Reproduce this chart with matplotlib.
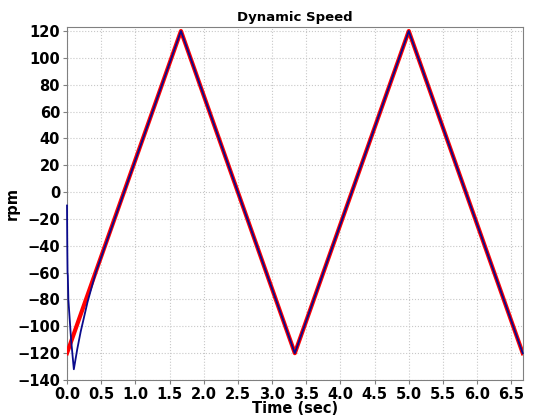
import matplotlib
matplotlib.use("Agg")
import matplotlib.pyplot as plt

# commanded speed (triangle wave corners)
cmd_time = [0.0, 1.667, 3.333, 5.0, 6.667]
cmd_rpm = [-120, 120, -120, 120, -120]

# measured speed - start-up transient then follows command
act_time = [0.0, 0.004, 0.008, 0.012, 0.02, 0.06, 0.1, 0.15, 0.2, 0.3, 0.42, 1.667, 3.333, 5.0, 6.667]
act_rpm = [-10, -40, -60, -62, -80, -110, -132, -117, -104, -82, -60, 120, -120, 120, -120]

fig = plt.figure(figsize=(5.33, 4.2), dpi=100)
ax = fig.add_axes([0.1257, 0.0952, 0.855, 0.8405])

ax.plot(cmd_time, cmd_rpm, color="red", linewidth=3.0, zorder=3)
ax.plot(act_time, act_rpm, color="#0a0a8c", linewidth=1.3, zorder=4, clip_on=False)

ax.set_xlim(0, 6.667)
ax.set_ylim(-140, 123)
ax.set_xticks([i * 0.5 for i in range(14)])
ax.set_yticks(range(-140, 121, 20))
ax.grid(True, linestyle=":", color="#c8c8c8", linewidth=0.8)

for s in ax.spines.values():
    s.set_color("#808080")
ax.tick_params(length=3, color="#808080", labelsize=10.5, pad=2)
for lbl in ax.get_xticklabels() + ax.get_yticklabels():
    lbl.set_fontweight("bold")

ax.set_title("Dynamic Speed", fontsize=9.5, fontweight="bold", pad=4)
ax.set_xlabel("Time (sec)", fontsize=10.5, fontweight="bold", labelpad=-1)
ax.set_ylabel("rpm", fontsize=10.5, fontweight="bold")
ax.yaxis.set_label_coords(-0.103, 0.5)

fig.savefig("out.png", dpi=100)
